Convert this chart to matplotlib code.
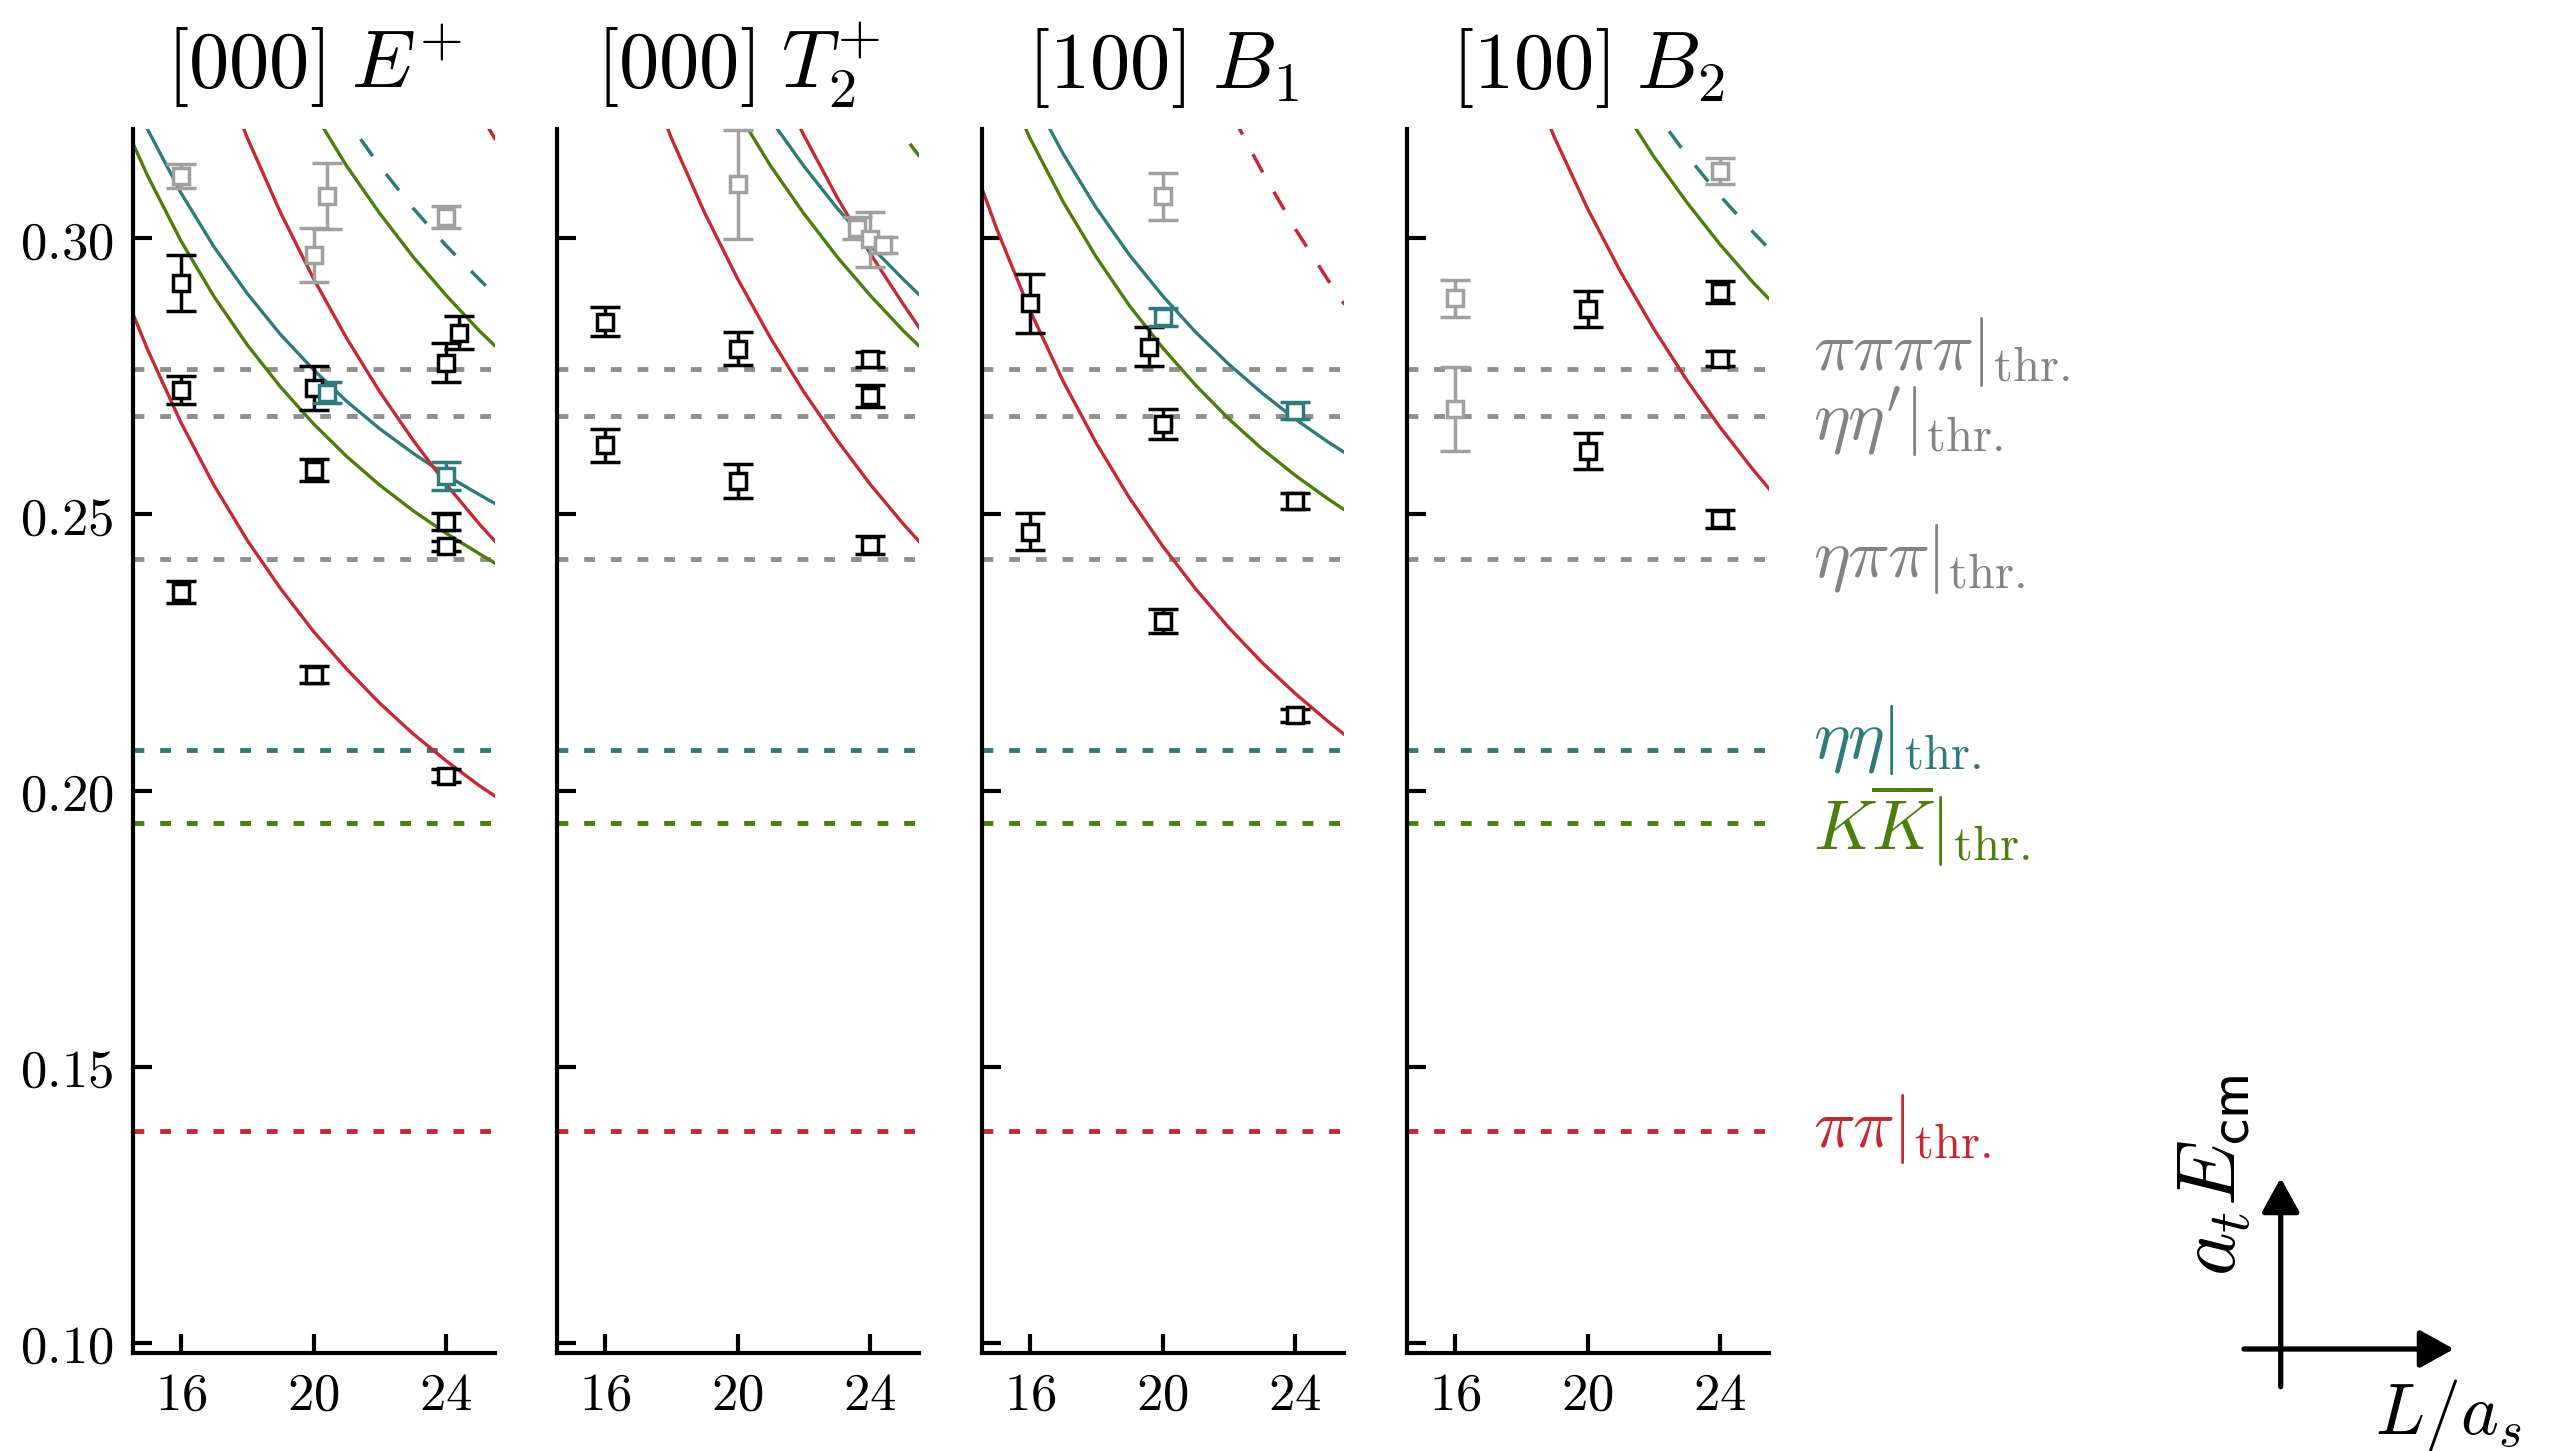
import numpy as np
import matplotlib
matplotlib.use('Agg')
import matplotlib.pyplot as plt
import matplotlib.transforms as mtransforms
from matplotlib.patches import FancyArrowPatch, ArrowStyle

plt.rcParams['mathtext.fontset'] = 'cm'
plt.rcParams['font.family'] = 'serif'
plt.rcParams['font.serif'] = ['DejaVu Serif']
plt.rcParams['lines.scale_dashes'] = False

nan = np.nan

# ---------------- data ----------------
titles = [r'$[000]\;E^{+}$', r'$[000]\;T_2^{+}$', r'$[100]\;B_1$', r'$[100]\;B_2$']
x_ticks = [16, 20, 24]
y_ticks = [0.10, 0.15, 0.20, 0.25, 0.30]

# thresholds
thr_names = [r'$\pi\pi\pi\pi|_{\mathrm{thr.}}$', r'$\eta\eta^{\prime}|_{\mathrm{thr.}}$',
             r'$\eta\pi\pi|_{\mathrm{thr.}}$', r'$\eta\eta|_{\mathrm{thr.}}$',
             r'$K\overline{K}|_{\mathrm{thr.}}$', r'$\pi\pi|_{\mathrm{thr.}}$']
thr_values = [0.2764, 0.2678, 0.2419, 0.2074, 0.1941, 0.1384]
thr_label_y = [0.2794, 0.2668, 0.2420, 0.2091, 0.1936, 0.1387]

# non-interacting levels vs L
L_grid = [14.5, 15, 16, 17, 18, 19, 20, 21, 22, 23, 24, 25, 25.5]
rest_pipi_1 = [0.2870, 0.2797, 0.2666, 0.2552, 0.2453, 0.2366, 0.2288, 0.2220, 0.2158, 0.2103, 0.2054, 0.2009, 0.1989]
rest_KK_1 = [0.3178, 0.3112, 0.2995, 0.2894, 0.2807, 0.2731, 0.2664, 0.2605, 0.2553, 0.2507, 0.2466, 0.2429, 0.2411]
rest_etaeta_1 = [0.3261, 0.3196, 0.3082, 0.2984, 0.2900, 0.2826, 0.2762, 0.2705, 0.2655, 0.2611, 0.2571, 0.2536, 0.2519]
rest_pipi_2 = [nan, nan, nan, 0.3335, 0.3182, 0.3047, 0.2927, 0.2819, 0.2722, 0.2635, 0.2555, 0.2483, 0.2450]
rest_KK_2 = [nan, nan, nan, nan, nan, 0.3338, 0.3229, 0.3131, 0.3045, 0.2967, 0.2897, 0.2833, 0.2804]
rest_etaeta_2 = [nan, nan, nan, nan, nan, nan, 0.3310, 0.3215, 0.3131, 0.3055, 0.2987, 0.2926, 0.2897]
rest_pipi_3 = [nan, nan, nan, nan, nan, nan, nan, 0.3311, 0.3187, 0.3075, 0.2973, 0.2881, 0.2837]
rest_KK_3 = [nan, nan, nan, nan, nan, nan, nan, nan, nan, 0.3364, 0.3271, 0.3187, 0.3148]
rest_pipi_4 = [nan, nan, nan, nan, nan, nan, nan, nan, nan, nan, 0.3340, 0.3229, 0.3178]
mov_pipi_B1 = [0.3098, 0.3016, 0.2869, 0.2741, 0.2629, 0.2530, 0.2443, 0.2365, 0.2295, 0.2232, 0.2176, 0.2125, 0.2101]
mov_KK_B1 = [0.3390, 0.3315, 0.3181, 0.3066, 0.2966, 0.2878, 0.2802, 0.2734, 0.2673, 0.2619, 0.2571, 0.2528, 0.2508]
mov_etaeta_B1 = [0.3469, 0.3395, 0.3265, 0.3153, 0.3055, 0.2970, 0.2896, 0.2830, 0.2772, 0.2720, 0.2673, 0.2631, 0.2612]
mov_pipi_B1_hi = [nan, nan, nan, nan, nan, nan, 0.3500, 0.3361, 0.3235, 0.3122, 0.3018, 0.2924, 0.2880]
mov_pipi_B2 = [nan, nan, nan, nan, 0.3327, 0.3183, 0.3054, 0.2939, 0.2836, 0.2743, 0.2658, 0.2581, 0.2545]
mov_KK_B2 = [nan, nan, nan, nan, nan, nan, 0.3347, 0.3242, 0.3148, 0.3065, 0.2989, 0.2920, 0.2889]
mov_etaeta_B2 = [nan, nan, nan, nan, nan, nan, nan, 0.3323, 0.3232, 0.3150, 0.3077, 0.3011, 0.2980]

# lattice energy levels: (L, E, err) per panel and colour group
p1_black_L = [16, 16, 16, 20, 20, 20, 24.4, 24, 24, 24, 24]
p1_black_E = [0.2919, 0.2725, 0.2360, 0.2729, 0.2580, 0.2210, 0.2829, 0.2775, 0.2487, 0.2443, 0.2027]
p1_black_err = [0.0050, 0.0025, 0.0020, 0.0040, 0.0020, 0.0016, 0.0030, 0.0036, 0.0015, 0.0009, 0.0012]
p1_gray_L = [16, 20.4, 20, 24]
p1_gray_E = [0.3113, 0.3077, 0.2970, 0.3038]
p1_gray_err = [0.0021, 0.0060, 0.0049, 0.0020]
p1_teal_L = [20.4, 24]
p1_teal_E = [0.2720, 0.2570]
p1_teal_err = [0.0019, 0.0025]

p2_black_L = [16, 16, 20, 20, 24, 24, 24]
p2_black_E = [0.2849, 0.2625, 0.2800, 0.2560, 0.2781, 0.2715, 0.2445]
p2_black_err = [0.0026, 0.0030, 0.0030, 0.0031, 0.0014, 0.0020, 0.0016]
p2_gray_L = [20, 23.6, 24, 24.4]
p2_gray_E = [0.3098, 0.3019, 0.2998, 0.2988]
p2_gray_err = [0.0099, 0.0020, 0.0050, 0.0014]

p3_black_L = [16, 16, 19.6, 20, 20, 24, 24]
p3_black_E = [0.2882, 0.2469, 0.2804, 0.2664, 0.2307, 0.2524, 0.2136]
p3_black_err = [0.0053, 0.0033, 0.0036, 0.0027, 0.0022, 0.0014, 0.0012]
p3_gray_L = [20]
p3_gray_E = [0.3076]
p3_gray_err = [0.0042]
p3_teal_L = [20, 24]
p3_teal_E = [0.2857, 0.2688]
p3_teal_err = [0.0016, 0.0015]

p4_black_L = [20, 20, 24, 24, 24]
p4_black_E = [0.2872, 0.2615, 0.2902, 0.2782, 0.2492]
p4_black_err = [0.0032, 0.0032, 0.0020, 0.0014, 0.0016]
p4_gray_L = [16, 16, 24]
p4_gray_E = [0.2891, 0.2691, 0.3122]
p4_gray_err = [0.0034, 0.0076, 0.0023]

# ---------------- styling ----------------
RED = '#c62a30'
TEAL = '#2f7b7b'
GREEN = '#4a7f0b'
GRAYLINE = '#8f8f8f'
GRAYPT = '#a0a0a0'
LABELGRAY = '#838383'
thr_colors = [GRAYLINE, GRAYLINE, GRAYLINE, TEAL, GREEN, RED]
thr_text_colors = [LABELGRAY, LABELGRAY, LABELGRAY, TEAL, GREEN, RED]

W, H = 2556, 1451
DPI = 200
fig = plt.figure(figsize=(W / DPI, H / DPI), dpi=DPI)

panel_left_px = [132.7, 556.7, 981.7, 1406.7]
ax_w = 362.3 / W
ax_b = 1 - 1353.3 / H
ax_h = (1353.3 - 129.3) / H

SOLID = dict(lw=1.2, ls='-')
DASHED = dict(lw=1.25, dashes=(7.5, 8.0))

curves = [
    [(rest_pipi_1, RED, SOLID), (rest_KK_1, GREEN, SOLID), (rest_etaeta_1, TEAL, SOLID),
     (rest_pipi_2, RED, SOLID), (rest_KK_2, GREEN, SOLID), (rest_etaeta_2, TEAL, DASHED),
     (rest_pipi_4, RED, DASHED)],
    [(rest_pipi_2, RED, SOLID), (rest_KK_2, GREEN, SOLID), (rest_etaeta_2, TEAL, SOLID),
     (rest_pipi_3, RED, SOLID), (rest_KK_3, GREEN, DASHED)],
    [(mov_pipi_B1, RED, SOLID), (mov_KK_B1, GREEN, SOLID), (mov_etaeta_B1, TEAL, SOLID),
     (mov_pipi_B1_hi, RED, DASHED)],
    [(mov_pipi_B2, RED, SOLID), (mov_KK_B2, GREEN, SOLID), (mov_etaeta_B2, TEAL, DASHED)],
]

points = [
    [(p1_gray_L, p1_gray_E, p1_gray_err, GRAYPT), (p1_black_L, p1_black_E, p1_black_err, 'black'),
     (p1_teal_L, p1_teal_E, p1_teal_err, TEAL)],
    [(p2_gray_L, p2_gray_E, p2_gray_err, GRAYPT), (p2_black_L, p2_black_E, p2_black_err, 'black')],
    [(p3_gray_L, p3_gray_E, p3_gray_err, GRAYPT), (p3_black_L, p3_black_E, p3_black_err, 'black'),
     (p3_teal_L, p3_teal_E, p3_teal_err, TEAL)],
    [(p4_gray_L, p4_gray_E, p4_gray_err, GRAYPT), (p4_black_L, p4_black_E, p4_black_err, 'black')],
]

axes = []
for i in range(4):
    ax = fig.add_axes([panel_left_px[i] / W, ax_b, ax_w, ax_h])
    axes.append(ax)
    ax.set_xlim(14.54, 25.48)
    ax.set_ylim(0.09808, 0.31974)
    for s in ['top', 'right']:
        ax.spines[s].set_visible(False)
    for s in ['left', 'bottom']:
        ax.spines[s].set_linewidth(1.5)
    ax.set_xticks(x_ticks)
    ax.set_xticklabels([f'${t}$' for t in x_ticks])
    ax.set_yticks(y_ticks)
    if i == 0:
        ax.set_yticklabels([f'${t:.2f}$' for t in y_ticks])
    else:
        ax.set_yticklabels([])
    ax.tick_params(axis='both', direction='in', length=6.8, width=1.5, labelsize=19)
    ax.tick_params(axis='y', pad=7)
    ax.tick_params(axis='x', pad=6)
    ax.set_title(titles[i], fontsize=29, pad=15)

    for v, c in zip(thr_values, thr_colors):
        ax.axhline(v, color=c, lw=1.75, dashes=(3.9, 5.7), zorder=1)

    for ys, c, st in curves[i]:
        ax.plot(L_grid, ys, color=c, zorder=2, **st)

    for Ls, Es, errs, c in points[i]:
        ax.errorbar(Ls, Es, yerr=errs, fmt='s', ms=6.0, mfc='white', mec=c, mew=1.25,
                    ecolor=c, elinewidth=1.25, capsize=5.4, capthick=1.25, zorder=5,
                    clip_on=False)

# threshold labels on the right
tr = mtransforms.blended_transform_factory(fig.transFigure, axes[3].transData)
for name, yl, c in zip(thr_names, thr_label_y, thr_text_colors):
    fig.text(1813 / W, yl, name, transform=tr, ha='left', va='center', color=c, fontsize=25)

# axis-direction legend (arrows)
def fx(px):
    return px / W

def fy(py):
    return 1 - py / H

astyle = ArrowStyle('-|>', head_length=10.5, head_width=5.8)
fig.add_artist(FancyArrowPatch((fx(2280.7), fy(1386.7)), (fx(2280.7), fy(1178)),
                               transform=fig.transFigure, arrowstyle=astyle,
                               mutation_scale=1, lw=1.9, color='black',
                               shrinkA=0, shrinkB=0))
fig.add_artist(FancyArrowPatch((fx(2244), fy(1349)), (fx(2454), fy(1349)),
                               transform=fig.transFigure, arrowstyle=astyle,
                               mutation_scale=1, lw=1.9, color='black',
                               shrinkA=0, shrinkB=0))
fig.text(fx(2213), fy(1175), r'$a_tE_{\mathsf{cm}}$', rotation=90, ha='center', va='center',
         fontsize=30)
fig.text(fx(2448), fy(1415), r'$L/a_s$', ha='center', va='center', fontsize=26)

fig.savefig('out.png', dpi=DPI)
